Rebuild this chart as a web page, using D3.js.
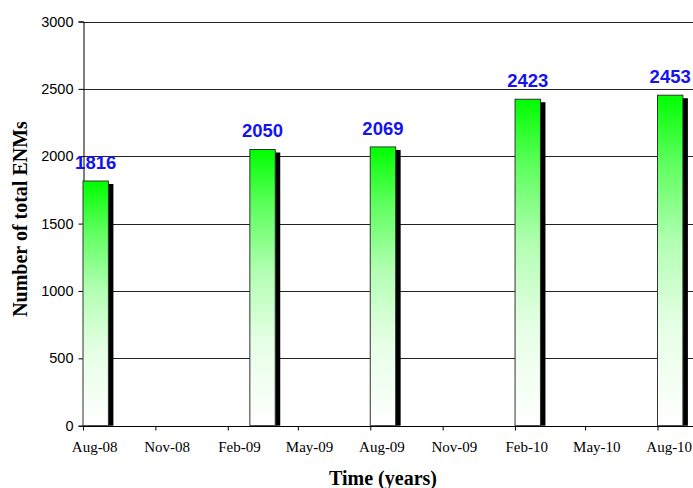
<!DOCTYPE html>
<html>
<head>
<meta charset="utf-8">
<script src="https://cdn.jsdelivr.net/npm/d3@7"></script>
<style>
  html, body { margin: 0; padding: 0; background: #fff; }
  svg { display: block; }
</style>
</head>
<body>
<svg id="chart" width="693" height="488"></svg>
<script>
// Survey dates (year-month) and total ENM counts
const dates = ["2008-08", "2009-03", "2009-08", "2010-02", "2010-08"];
const counts = [1816, 2050, 2069, 2423, 2453];
const yTicks = [0, 500, 1000, 1500, 2000, 2500, 3000];
const xTicks = ["2008-08", "2008-11", "2009-02", "2009-05", "2009-08",
                "2009-11", "2010-02", "2010-05", "2010-08"];

const parse = d3.utcParse("%Y-%m");
const svg = d3.select("#chart");
const W = 693;

const x = d3.scaleUtc()
  .domain([parse(xTicks[0]), parse(xTicks[xTicks.length - 1])])
  .range([83, 657.5]);
const y = d3.scaleLinear().domain([0, 3000]).range([425.7, 21.5]);

// Bar gradient: bright green at the top fading to white at the base
const defs = svg.append("defs");
const grad = defs.append("linearGradient")
  .attr("id", "barFill").attr("x1", 0).attr("y1", 0).attr("x2", 0).attr("y2", 1);
[[0, "#00ff00"], [0.2, "#5cff5c"], [0.45, "#b4ffb4"], [0.7, "#e6ffe6"], [1, "#ffffff"]]
  .forEach(([o, c]) => grad.append("stop").attr("offset", o).attr("stop-color", c));

// Horizontal gridlines
svg.append("g").selectAll("line")
  .data(yTicks.filter(t => t > 0))
  .join("line")
  .attr("x1", 83).attr("x2", W)
  .attr("y1", d => Math.round(y(d)) + 0.5).attr("y2", d => Math.round(y(d)) + 0.5)
  .attr("stroke", "#222").attr("stroke-width", 1);

// Y axis
const yAxis = svg.append("g")
  .attr("transform", "translate(83.5,0)")
  .call(d3.axisLeft(y).tickValues(yTicks).tickSize(5).tickPadding(5).tickFormat(d3.format("d")));
yAxis.select(".domain").attr("stroke", "#000");
yAxis.selectAll(".tick line").attr("stroke", "#000");
yAxis.selectAll("text")
  .attr("font-family", "Liberation Sans, Arial, sans-serif")
  .attr("font-size", 14.5).attr("fill", "#000");

// Bars: one month wide, starting at each survey date, with a dark drop shadow
const monthW = x(d3.utcMonth.offset(parse(xTicks[0]), 1)) - x(parse(xTicks[0]));
const barW = monthW + 1;
const bars = svg.append("g");
bars.selectAll("rect.shadow")
  .data(dates)
  .join("rect")
  .attr("class", "shadow")
  .attr("x", (d) => x(parse(d)) + 5)
  .attr("y", (d, i) => y(counts[i]) + 3)
  .attr("width", barW)
  .attr("height", (d, i) => y(0) - y(counts[i]) - 3)
  .attr("fill", "#000");
bars.selectAll("rect.bar")
  .data(dates)
  .join("rect")
  .attr("class", "bar")
  .attr("x", (d) => x(parse(d)))
  .attr("y", (d, i) => y(counts[i]))
  .attr("width", barW)
  .attr("height", (d, i) => y(0) - y(counts[i]))
  .attr("fill", "url(#barFill)")
  .attr("stroke", "#333").attr("stroke-width", 1);

// Value labels above bars
svg.append("g").selectAll("text")
  .data(dates)
  .join("text")
  .attr("x", (d) => x(parse(d)) + barW / 2)
  .attr("y", (d, i) => y(counts[i]) - 12)
  .attr("text-anchor", "middle")
  .attr("font-family", "Liberation Sans, Arial, sans-serif")
  .attr("font-weight", "bold").attr("font-size", 18.5)
  .attr("fill", "#1414f0")
  .text((d, i) => counts[i]);

// X axis (quarterly ticks, labels centred in each month slot)
const xAxis = svg.append("g")
  .attr("transform", `translate(0,${Math.round(y(0)) + 0.5})`)
  .call(d3.axisBottom(x)
    .tickValues(xTicks.map(parse))
    .tickFormat(d3.utcFormat("%b-%y"))
    .tickSize(4).tickPadding(11).tickSizeOuter(0));
xAxis.select(".domain").attr("stroke", "#000").attr("d", `M83,0H${W}`);
xAxis.selectAll(".tick line").attr("stroke", "#000");
xAxis.selectAll("text")
  .attr("dx", monthW / 2 - 1)
  .attr("font-family", "Liberation Serif, Times New Roman, serif")
  .attr("font-size", 15).attr("fill", "#000");
// redraw the baseline over the bar bottoms
svg.append("line")
  .attr("x1", 83).attr("x2", W)
  .attr("y1", Math.round(y(0)) + 0.5).attr("y2", Math.round(y(0)) + 0.5)
  .attr("stroke", "#000");

// Axis titles
svg.append("text")
  .attr("x", 383).attr("y", 485)
  .attr("text-anchor", "middle")
  .attr("font-family", "Liberation Serif, Times New Roman, serif")
  .attr("font-weight", "bold").attr("font-size", 20)
  .text("Time (years)");
svg.append("text")
  .attr("transform", "translate(27,219) rotate(-90)")
  .attr("text-anchor", "middle")
  .attr("font-family", "Liberation Serif, Times New Roman, serif")
  .attr("font-weight", "bold").attr("font-size", 20)
  .text("Number of total ENMs");
</script>
</body>
</html>
